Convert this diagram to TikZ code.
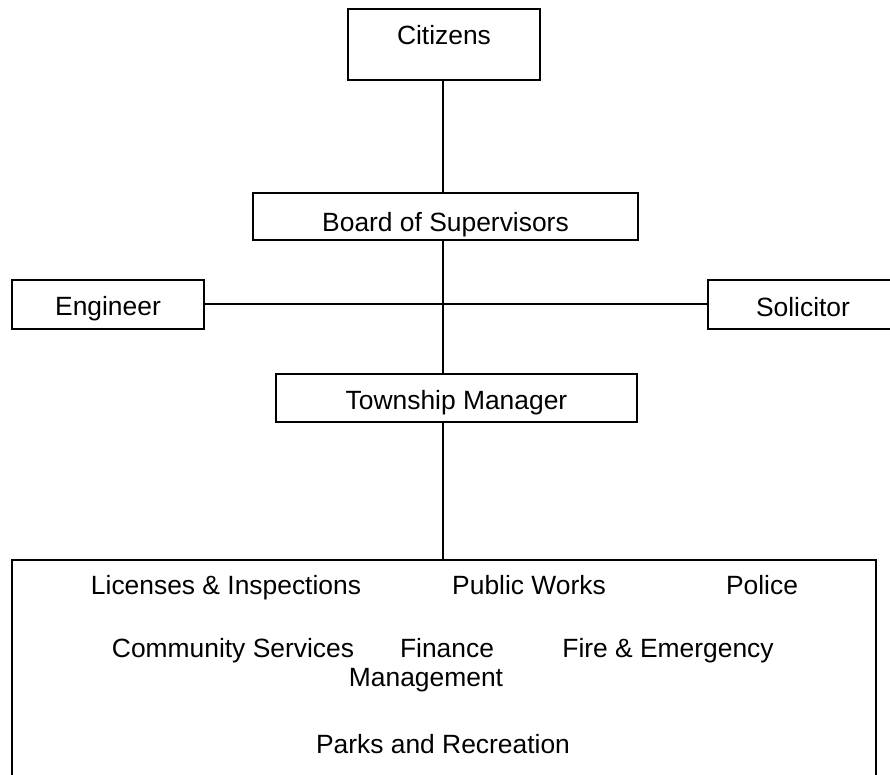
\documentclass[tikz,border=0pt]{standalone}
\usepackage{fontspec}
\setmainfont{Liberation Sans}
\usepackage{tikz}
\usetikzlibrary{calc}
\tikzset{unit/.style={draw,line width=1.3pt,inner sep=0pt,minimum width=#1},unit/.default=96pt}
\tikzset{link/.style={draw,line width=1pt}}
\tikzset{dept/.style={anchor=base,inner sep=0pt}}

\begin{document}
\begin{tikzpicture}[x=0.5pt,y=-0.5pt,font=\fontsize{13.2}{15.8}\selectfont]

	% A moldura da figura
	\useasboundingbox (0,0) rectangle (890,775);
	\clip (0,0) rectangle (890,775);

	% Os cidadaos e o conselho
	\node [unit, minimum height=35.5pt, text height=9.5pt, text depth=9pt]
		(citizens) at (444,44.5) {Citizens};
	\node [unit=192.5pt, minimum height=23.5pt, text height=15.5pt, text depth=0pt]
		(board) at (445.5,216.5) {Board of Supervisors};

	% Engenheiro e procurador
	\node [unit, minimum height=24.5pt, text height=11.5pt, text depth=0pt]
		(engineer) at (108,304.5) {Engineer};
	\node [unit=95pt, minimum height=24.5pt, text height=12.5pt, text depth=0pt]
		(solicitor) at (803,304.5) {Solicitor};

	% O gerente
	\node [unit=180.5pt, minimum height=24pt, text height=12pt, text depth=0pt]
		(manager) at (456.5,398) {Township Manager};

	% A caixa dos departamentos
	\node [unit=432pt, minimum height=110pt] (departments) at (444,670) {};

	% Os departamentos
	\node [dept] (licenses)   at (226,595) {Licenses \& Inspections};
	\node [dept] (works)      at (529,595) {Public Works};
	\node [dept] (police)     at (762,595) {Police};
	\node [dept] (community)  at (233,657) {Community Services};
	\node [dept] (finance)    at (447,657) {Finance};
	\node [dept] (fire)       at (668,657) {Fire \& Emergency};
	\node [dept] (management) at (426,686) {Management};
	\node [dept] (parks)      at (443,753) {Parks and Recreation};

	% As ligacoes
	\coordinate (spine) at (443,0);
	\draw [link] (citizens.south -| spine) -- (board.north -| spine);
	\draw [link] (board.south -| spine) -- (manager.north -| spine);
	\draw [link] (engineer.east) -- (solicitor.west);
	\draw [link] (manager.south -| spine) -- (departments.north -| spine);

\end{tikzpicture}
\end{document}
